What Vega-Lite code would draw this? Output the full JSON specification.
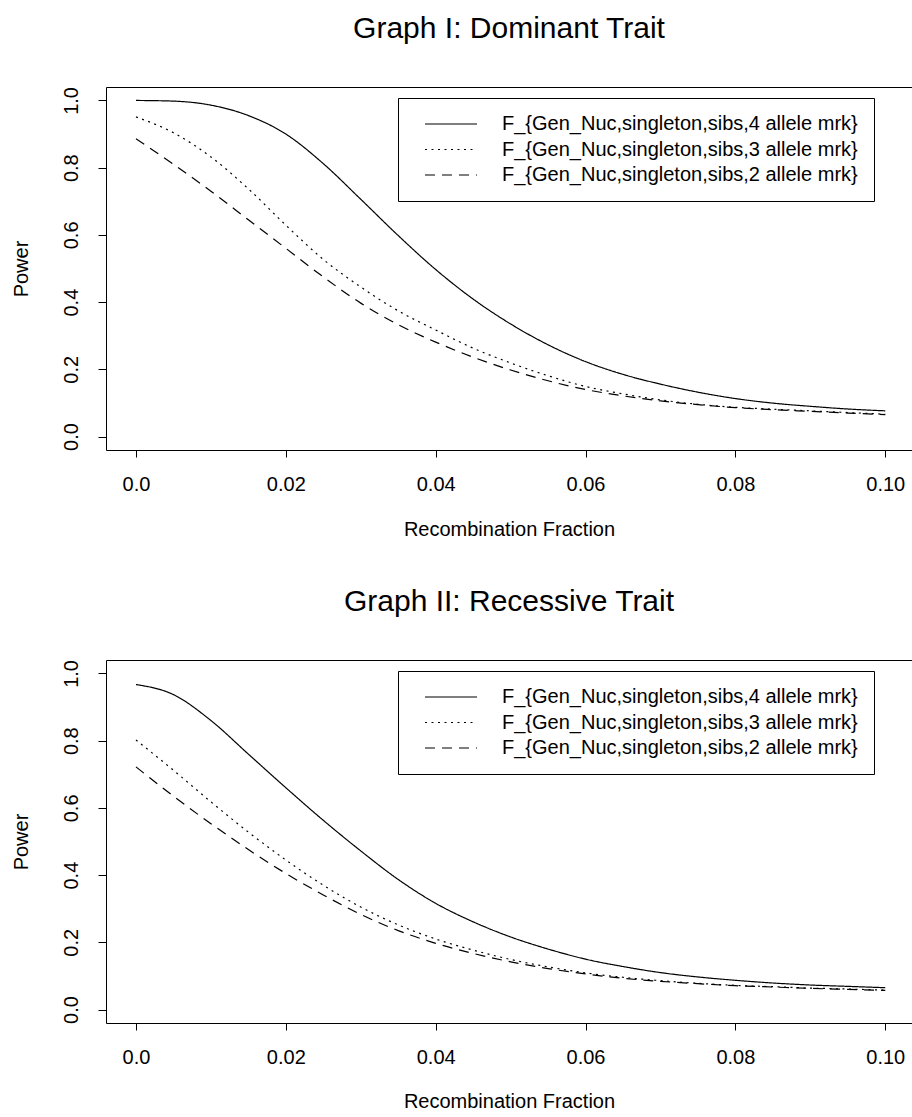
{
  "$schema": "https://vega.github.io/schema/vega-lite/v6.json",
  "padding": {"left": 10, "top": 13, "right": 0, "bottom": 0},
  "background": "white",
  "spacing": 46,
  "config": {
    "font": "Liberation Sans",
    "view": {"stroke": "black", "strokeWidth": 1},
    "axis": {"grid": false, "domain": false, "tickColor": "black", "tickWidth": 1, "labelColor": "black", "titleColor": "black", "labelFont": "Liberation Sans", "titleFont": "Liberation Sans", "labelFontSize": 20, "titleFontSize": 20, "titleFontWeight": "normal", "labelOverlap": false, "labelFlush": false},
    "title": {"font": "Liberation Sans", "fontSize": 30, "fontWeight": "normal", "color": "black", "anchor": "middle", "baseline": "alphabetic", "offset": 43},
    "legend": {"title": null, "orient": "none", "legendX": 292, "legendY": 11, "padding": 16, "strokeColor": "black", "fillColor": "white", "symbolType": "stroke", "symbolSize": 2704, "symbolStrokeWidth": 1.2, "symbolStrokeColor": "black", "clipHeight": 20, "rowPadding": 5.5, "labelFontSize": 20, "labelFont": "Liberation Sans", "labelColor": "black", "labelLimit": 700, "symbolOffset": 10, "labelOffset": 24}
  },
  "datasets": {
    "dominant": [
      {"mrk":"4 allele mrk","theta":0,"power":1.0},{"mrk":"4 allele mrk","theta":0.005,"power":0.998},{"mrk":"4 allele mrk","theta":0.01,"power":0.986},{"mrk":"4 allele mrk","theta":0.015,"power":0.955},{"mrk":"4 allele mrk","theta":0.02,"power":0.9},{"mrk":"4 allele mrk","theta":0.025,"power":0.812},{"mrk":"4 allele mrk","theta":0.03,"power":0.706},{"mrk":"4 allele mrk","theta":0.035,"power":0.598},{"mrk":"4 allele mrk","theta":0.04,"power":0.497},{"mrk":"4 allele mrk","theta":0.045,"power":0.409},{"mrk":"4 allele mrk","theta":0.05,"power":0.335},{"mrk":"4 allele mrk","theta":0.055,"power":0.273},{"mrk":"4 allele mrk","theta":0.06,"power":0.223},{"mrk":"4 allele mrk","theta":0.065,"power":0.185},{"mrk":"4 allele mrk","theta":0.07,"power":0.156},{"mrk":"4 allele mrk","theta":0.075,"power":0.132},{"mrk":"4 allele mrk","theta":0.08,"power":0.113},{"mrk":"4 allele mrk","theta":0.085,"power":0.0995},{"mrk":"4 allele mrk","theta":0.09,"power":0.09},{"mrk":"4 allele mrk","theta":0.095,"power":0.082},{"mrk":"4 allele mrk","theta":0.1,"power":0.0765},
      {"mrk":"3 allele mrk","theta":0,"power":0.951},{"mrk":"3 allele mrk","theta":0.005,"power":0.904},{"mrk":"3 allele mrk","theta":0.01,"power":0.832},{"mrk":"3 allele mrk","theta":0.015,"power":0.737},{"mrk":"3 allele mrk","theta":0.02,"power":0.629},{"mrk":"3 allele mrk","theta":0.025,"power":0.527},{"mrk":"3 allele mrk","theta":0.03,"power":0.445},{"mrk":"3 allele mrk","theta":0.035,"power":0.374},{"mrk":"3 allele mrk","theta":0.04,"power":0.317},{"mrk":"3 allele mrk","theta":0.045,"power":0.263},{"mrk":"3 allele mrk","theta":0.05,"power":0.219},{"mrk":"3 allele mrk","theta":0.055,"power":0.181},{"mrk":"3 allele mrk","theta":0.06,"power":0.149},{"mrk":"3 allele mrk","theta":0.065,"power":0.127},{"mrk":"3 allele mrk","theta":0.07,"power":0.109},{"mrk":"3 allele mrk","theta":0.075,"power":0.096},{"mrk":"3 allele mrk","theta":0.08,"power":0.087},{"mrk":"3 allele mrk","theta":0.085,"power":0.0815},{"mrk":"3 allele mrk","theta":0.09,"power":0.0765},{"mrk":"3 allele mrk","theta":0.095,"power":0.0715},{"mrk":"3 allele mrk","theta":0.1,"power":0.0665},
      {"mrk":"2 allele mrk","theta":0,"power":0.886},{"mrk":"2 allele mrk","theta":0.005,"power":0.81},{"mrk":"2 allele mrk","theta":0.01,"power":0.73},{"mrk":"2 allele mrk","theta":0.015,"power":0.645},{"mrk":"2 allele mrk","theta":0.02,"power":0.56},{"mrk":"2 allele mrk","theta":0.025,"power":0.475},{"mrk":"2 allele mrk","theta":0.03,"power":0.397},{"mrk":"2 allele mrk","theta":0.035,"power":0.333},{"mrk":"2 allele mrk","theta":0.04,"power":0.281},{"mrk":"2 allele mrk","theta":0.045,"power":0.236},{"mrk":"2 allele mrk","theta":0.05,"power":0.198},{"mrk":"2 allele mrk","theta":0.055,"power":0.166},{"mrk":"2 allele mrk","theta":0.06,"power":0.14},{"mrk":"2 allele mrk","theta":0.065,"power":0.121},{"mrk":"2 allele mrk","theta":0.07,"power":0.106},{"mrk":"2 allele mrk","theta":0.075,"power":0.095},{"mrk":"2 allele mrk","theta":0.08,"power":0.086},{"mrk":"2 allele mrk","theta":0.085,"power":0.08},{"mrk":"2 allele mrk","theta":0.09,"power":0.075},{"mrk":"2 allele mrk","theta":0.095,"power":0.07},{"mrk":"2 allele mrk","theta":0.1,"power":0.065}
    ],
    "recessive": [
      {"mrk":"4 allele mrk","theta":0,"power":0.967},{"mrk":"4 allele mrk","theta":0.005,"power":0.937},{"mrk":"4 allele mrk","theta":0.01,"power":0.86},{"mrk":"4 allele mrk","theta":0.015,"power":0.76},{"mrk":"4 allele mrk","theta":0.02,"power":0.66},{"mrk":"4 allele mrk","theta":0.025,"power":0.563},{"mrk":"4 allele mrk","theta":0.03,"power":0.472},{"mrk":"4 allele mrk","theta":0.035,"power":0.387},{"mrk":"4 allele mrk","theta":0.04,"power":0.316},{"mrk":"4 allele mrk","theta":0.045,"power":0.261},{"mrk":"4 allele mrk","theta":0.05,"power":0.216},{"mrk":"4 allele mrk","theta":0.055,"power":0.18},{"mrk":"4 allele mrk","theta":0.06,"power":0.15},{"mrk":"4 allele mrk","theta":0.065,"power":0.128},{"mrk":"4 allele mrk","theta":0.07,"power":0.11},{"mrk":"4 allele mrk","theta":0.075,"power":0.097},{"mrk":"4 allele mrk","theta":0.08,"power":0.087},{"mrk":"4 allele mrk","theta":0.085,"power":0.079},{"mrk":"4 allele mrk","theta":0.09,"power":0.073},{"mrk":"4 allele mrk","theta":0.095,"power":0.069},{"mrk":"4 allele mrk","theta":0.1,"power":0.065},
      {"mrk":"3 allele mrk","theta":0,"power":0.802},{"mrk":"3 allele mrk","theta":0.005,"power":0.712},{"mrk":"3 allele mrk","theta":0.01,"power":0.618},{"mrk":"3 allele mrk","theta":0.015,"power":0.528},{"mrk":"3 allele mrk","theta":0.02,"power":0.445},{"mrk":"3 allele mrk","theta":0.025,"power":0.37},{"mrk":"3 allele mrk","theta":0.03,"power":0.305},{"mrk":"3 allele mrk","theta":0.035,"power":0.252},{"mrk":"3 allele mrk","theta":0.04,"power":0.21},{"mrk":"3 allele mrk","theta":0.045,"power":0.177},{"mrk":"3 allele mrk","theta":0.05,"power":0.149},{"mrk":"3 allele mrk","theta":0.055,"power":0.127},{"mrk":"3 allele mrk","theta":0.06,"power":0.109},{"mrk":"3 allele mrk","theta":0.065,"power":0.096},{"mrk":"3 allele mrk","theta":0.07,"power":0.086},{"mrk":"3 allele mrk","theta":0.075,"power":0.078},{"mrk":"3 allele mrk","theta":0.08,"power":0.072},{"mrk":"3 allele mrk","theta":0.085,"power":0.068},{"mrk":"3 allele mrk","theta":0.09,"power":0.064},{"mrk":"3 allele mrk","theta":0.095,"power":0.061},{"mrk":"3 allele mrk","theta":0.1,"power":0.058},
      {"mrk":"2 allele mrk","theta":0,"power":0.722},{"mrk":"2 allele mrk","theta":0.005,"power":0.635},{"mrk":"2 allele mrk","theta":0.01,"power":0.553},{"mrk":"2 allele mrk","theta":0.015,"power":0.476},{"mrk":"2 allele mrk","theta":0.02,"power":0.405},{"mrk":"2 allele mrk","theta":0.025,"power":0.341},{"mrk":"2 allele mrk","theta":0.03,"power":0.283},{"mrk":"2 allele mrk","theta":0.035,"power":0.235},{"mrk":"2 allele mrk","theta":0.04,"power":0.197},{"mrk":"2 allele mrk","theta":0.045,"power":0.167},{"mrk":"2 allele mrk","theta":0.05,"power":0.142},{"mrk":"2 allele mrk","theta":0.055,"power":0.122},{"mrk":"2 allele mrk","theta":0.06,"power":0.106},{"mrk":"2 allele mrk","theta":0.065,"power":0.093},{"mrk":"2 allele mrk","theta":0.07,"power":0.084},{"mrk":"2 allele mrk","theta":0.075,"power":0.077},{"mrk":"2 allele mrk","theta":0.08,"power":0.071},{"mrk":"2 allele mrk","theta":0.085,"power":0.067},{"mrk":"2 allele mrk","theta":0.09,"power":0.063},{"mrk":"2 allele mrk","theta":0.095,"power":0.06},{"mrk":"2 allele mrk","theta":0.1,"power":0.057}
    ]
  },
  "resolve": {"scale": {"strokeDash": "independent"}, "legend": {"strokeDash": "independent"}},
  "vconcat": [
    {
      "title": "Graph I: Dominant Trait",
      "width": 806,
      "height": 363,
      "data": {"name": "dominant"},
      "mark": {"type": "line", "color": "black", "strokeWidth": 1.2, "interpolate": "monotone"},
      "encoding": {
        "x": {"field": "theta", "type": "quantitative", "scale": {"domain": [-0.004, 0.10357], "nice": false, "zero": false}, "axis": {"title": "Recombination Fraction", "values": [0, 0.02, 0.04, 0.06, 0.08, 0.1], "labelExpr": "datum.value == 0 ? '0.0' : format(datum.value, '.2f')", "tickSize": 7, "labelPadding": 17.5, "titlePadding": 25}},
        "y": {"field": "power", "type": "quantitative", "scale": {"domain": [-0.04, 1.04], "nice": false, "zero": false}, "axis": {"title": "Power", "values": [0, 0.2, 0.4, 0.6, 0.8, 1], "format": ".1f", "labelAngle": -90, "labelAlign": "center", "labelBaseline": "bottom", "tickSize": 8, "labelPadding": 17, "titlePadding": 30}},
        "strokeDash": {"field": "mrk", "type": "nominal", "scale": {"domain": ["4 allele mrk", "3 allele mrk", "2 allele mrk"], "range": [[1, 0], [2, 4.5], [10, 7]]}, "legend": {"labelExpr": "'F_{Gen_Nuc,singleton,sibs,' + datum.label + '}'"}}
      }
    },
    {
      "title": "Graph II: Recessive Trait",
      "width": 806,
      "height": 363,
      "data": {"name": "recessive"},
      "mark": {"type": "line", "color": "black", "strokeWidth": 1.2, "interpolate": "monotone"},
      "encoding": {
        "x": {"field": "theta", "type": "quantitative", "scale": {"domain": [-0.004, 0.10357], "nice": false, "zero": false}, "axis": {"title": "Recombination Fraction", "values": [0, 0.02, 0.04, 0.06, 0.08, 0.1], "labelExpr": "datum.value == 0 ? '0.0' : format(datum.value, '.2f')", "tickSize": 7, "labelPadding": 17.5, "titlePadding": 24}},
        "y": {"field": "power", "type": "quantitative", "scale": {"domain": [-0.04, 1.04], "nice": false, "zero": false}, "axis": {"title": "Power", "values": [0, 0.2, 0.4, 0.6, 0.8, 1], "format": ".1f", "labelAngle": -90, "labelAlign": "center", "labelBaseline": "bottom", "tickSize": 8, "labelPadding": 17, "titlePadding": 30}},
        "strokeDash": {"field": "mrk", "type": "nominal", "scale": {"domain": ["4 allele mrk", "3 allele mrk", "2 allele mrk"], "range": [[1, 0], [2, 4.5], [10, 7]]}, "legend": {"labelExpr": "'F_{Gen_Nuc,singleton,sibs,' + datum.label + '}'"}}
      }
    }
  ]
}
